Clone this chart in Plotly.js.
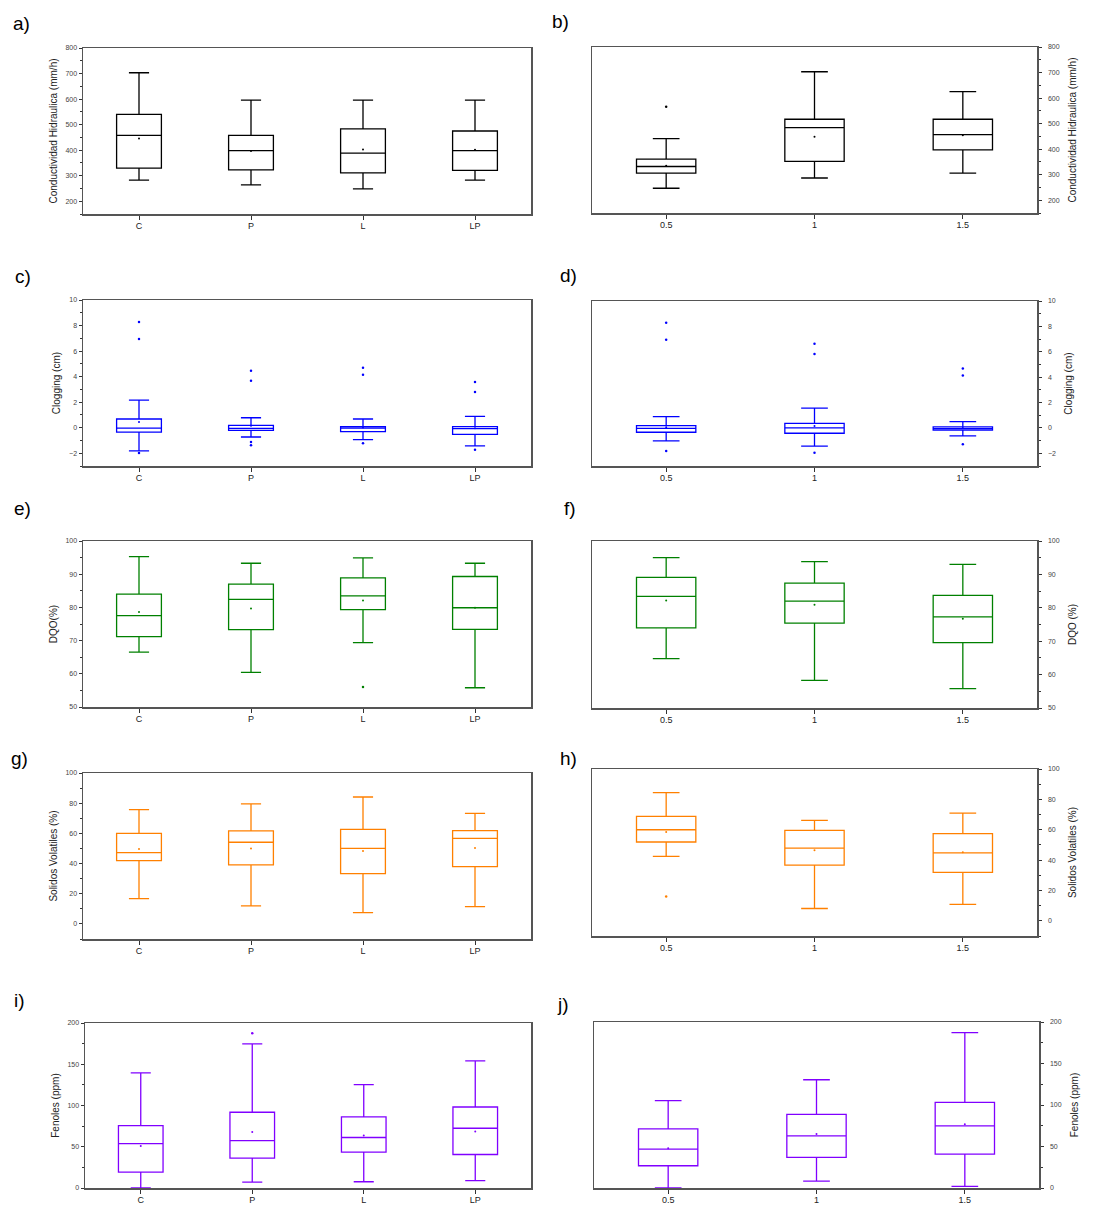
<!DOCTYPE html>
<html>
<head>
<meta charset="utf-8">
<script src="https://cdn.plot.ly/plotly-3.0.1.min.js"></script>
<style>html,body{margin:0;padding:0;background:#fff;}#chart{width:1094px;height:1205px;}</style>
</head>
<body>
<div id="chart"></div>
<script>
// ---------- categories ----------
const catsTreat = ['C', 'P', 'L', 'LP'];
const catsRate = ['0.5', '1', '1.5'];

// ---------- a) Conductividad Hidraulica by treatment ----------
const aQ1 = [330, 323, 311, 321];
const aMed = [458, 398, 388, 398];
const aQ3 = [540, 458, 483, 475];
const aLo = [283, 264, 248, 283];
const aHi = [703, 596, 596, 596];
const aMean = [446, 397, 403, 402];
const aOutX = [];
const aOutY = [];

// ---------- b) Conductividad Hidraulica by rate ----------
const bQ1 = [306, 352, 397];
const bMed = [332, 484, 457];
const bQ3 = [361, 517, 517];
const bLo = [247, 287, 306];
const bHi = [441, 703, 625];
const bMean = [335, 449, 454];
const bOutX = ['0.5'];
const bOutY = [566];

// ---------- c) Clogging by treatment ----------
const cQ1 = [-0.34, -0.21, -0.31, -0.52];
const cMed = [-0.03, -0.05, -0.03, -0.08];
const cQ3 = [0.68, 0.18, 0.08, 0.08];
const cLo = [-1.82, -0.73, -0.94, -1.43];
const cHi = [2.16, 0.78, 0.68, 0.89];
const cMean = [0.44, 0.15, 0.02, -0.05];
const cOutX = ['C', 'C', 'C', 'P', 'P', 'P', 'P', 'L', 'L', 'L', 'LP', 'LP', 'LP'];
const cOutY = [8.28, 6.95, -1.98, 4.45, 3.67, -1.12, -1.38, 4.69, 4.14, -1.22, 3.57, 2.79, -1.72];

// ---------- d) Clogging by rate ----------
const dQ1 = [-0.34, -0.42, -0.18];
const dMed = [-0.03, 0.0, -0.05];
const dQ3 = [0.18, 0.36, 0.08];
const dLo = [-1.02, -1.43, -0.63];
const dHi = [0.89, 1.56, 0.49];
const dMean = [0.05, 0.16, 0.0];
const dOutX = ['0.5', '0.5', '0.5', '1', '1', '1', '1.5', '1.5', '1.5'];
const dOutY = [8.28, 6.95, -1.82, 6.64, 5.83, -1.95, 4.69, 4.14, -1.28];

// ---------- e) DQO by treatment ----------
const eQ1 = [71.2, 73.3, 79.3, 73.4];
const eMed = [77.5, 82.4, 83.5, 79.9];
const eQ3 = [84.0, 87.0, 88.9, 89.3];
const eLo = [66.5, 60.4, 69.4, 55.8];
const eHi = [95.3, 93.3, 94.9, 93.3];
const eMean = [78.6, 79.7, 82.1, 79.9];
const eOutX = ['L'];
const eOutY = [56.0];

// ---------- f) DQO by rate ----------
const fQ1 = [74.0, 75.4, 69.6];
const fMed = [83.4, 82.0, 77.3];
const fQ3 = [89.1, 87.4, 83.7];
const fLo = [64.8, 58.3, 55.8];
const fHi = [95.0, 93.8, 93.0];
const fMean = [82.2, 80.9, 76.7];
const fOutX = [];
const fOutY = [];

// ---------- g) Solidos Volatiles by treatment ----------
const gQ1 = [41.9, 39.1, 33.3, 38.0];
const gMed = [47.2, 54.1, 50.1, 56.7];
const gQ3 = [60.0, 61.6, 62.7, 61.8];
const gLo = [16.8, 11.9, 7.5, 11.5];
const gHi = [75.7, 79.5, 84.1, 73.3];
const gMean = [49.7, 49.9, 48.3, 50.3];
const gOutX = [];
const gOutY = [];

// ---------- h) Solidos Volatiles by rate ----------
const hQ1 = [51.9, 36.7, 31.9];
const hMed = [60.0, 47.9, 44.8];
const hQ3 = [68.8, 59.6, 57.4];
const hLo = [42.4, 8.1, 10.8];
const hHi = [84.4, 66.2, 71.0];
const hMean = [58.5, 46.4, 45.1];
const hOutX = ['0.5'];
const hOutY = [16.0];

// ---------- i) Fenoles by treatment ----------
const iQ1 = [19.3, 36.2, 43.5, 40.6];
const iMed = [53.9, 57.5, 61.2, 72.4];
const iQ3 = [75.7, 91.8, 86.1, 98.2];
const iLo = [0, 7.2, 7.6, 8.9];
const iHi = [139.6, 174.6, 125.2, 154.1];
const iMean = [51.0, 68.0, 63.6, 68.4];
const iOutX = ['P'];
const iOutY = [187.5];

// ---------- j) Fenoles by rate ----------
const jQ1 = [26.8, 36.8, 40.8];
const jMed = [46.8, 62.8, 74.8];
const jQ3 = [71.2, 88.8, 103.2];
const jLo = [0, 8.4, 2];
const jHi = [105.2, 130.4, 187.2];
const jMean = [48.0, 65.2, 76.8];
const jOutX = [];
const jOutY = [];

// ---------- axis titles ----------
const tCond = 'Conductividad Hidraulica (mm/h)';
const tClog = 'Clogging (cm)';
const tDqoL = 'DQO(%)';
const tDqoR = 'DQO (%)';
const tSol = 'Solidos Volatiles (%)';
const tFen = 'Fenoles (ppm)';

// ---------- build ----------
const W = 1094, H = 1205;
const colBlack = '#000000', colBlue = '#0000ff', colGreen = '#008000', colOrange = '#ff8000', colPurple = '#8000ff';

const panels = [
  {lab:'a)', cats:catsTreat, q1:aQ1, med:aMed, q3:aQ3, lo:aLo, hi:aHi, mean:aMean, ox:aOutX, oy:aOutY, col:colBlack, title:tCond, range:[150,800], dtick:100, minor:50, right:false, px:[83,531], py:[48,214], labPos:[11,23]},
  {lab:'b)', cats:catsRate, q1:bQ1, med:bMed, q3:bQ3, lo:bLo, hi:bHi, mean:bMean, ox:bOutX, oy:bOutY, col:colBlack, title:tCond, range:[150,800], dtick:100, minor:50, right:true, px:[592,1037], py:[47,213], labPos:[550,21]},
  {lab:'c)', cats:catsTreat, q1:cQ1, med:cMed, q3:cQ3, lo:cLo, hi:cHi, mean:cMean, ox:cOutX, oy:cOutY, col:colBlue, title:tClog, range:[-3,10], dtick:2, minor:1, right:false, px:[83,531], py:[300,466], labPos:[13,277]},
  {lab:'d)', cats:catsRate, q1:dQ1, med:dMed, q3:dQ3, lo:dLo, hi:dHi, mean:dMean, ox:dOutX, oy:dOutY, col:colBlue, title:tClog, range:[-3,10], dtick:2, minor:1, right:true, px:[592,1037], py:[301,466], labPos:[558,276]},
  {lab:'e)', cats:catsTreat, q1:eQ1, med:eMed, q3:eQ3, lo:eLo, hi:eHi, mean:eMean, ox:eOutX, oy:eOutY, col:colGreen, title:tDqoL, range:[50,100], dtick:10, minor:5, right:false, px:[83,531], py:[541,707], labPos:[12,508]},
  {lab:'f)', cats:catsRate, q1:fQ1, med:fMed, q3:fQ3, lo:fLo, hi:fHi, mean:fMean, ox:fOutX, oy:fOutY, col:colGreen, title:tDqoR, range:[50,100], dtick:10, minor:5, right:true, px:[592,1037], py:[541,708], labPos:[562,508]},
  {lab:'g)', cats:catsTreat, q1:gQ1, med:gMed, q3:gQ3, lo:gLo, hi:gHi, mean:gMean, ox:gOutX, oy:gOutY, col:colOrange, title:tSol, range:[-10,100], dtick:20, minor:10, right:false, px:[83,531], py:[773,939], labPos:[9,758]},
  {lab:'h)', cats:catsRate, q1:hQ1, med:hMed, q3:hQ3, lo:hLo, hi:hHi, mean:hMean, ox:hOutX, oy:hOutY, col:colOrange, title:tSol, range:[-10,100], dtick:20, minor:10, right:true, px:[592,1037], py:[769,936], labPos:[558,758]},
  {lab:'i)', cats:catsTreat, q1:iQ1, med:iMed, q3:iQ3, lo:iLo, hi:iHi, mean:iMean, ox:iOutX, oy:iOutY, col:colPurple, title:tFen, range:[0,200], dtick:50, minor:25, right:false, px:[85,531], py:[1023,1188], labPos:[12,1000]},
  {lab:'j)', cats:catsRate, q1:jQ1, med:jMed, q3:jQ3, lo:jLo, hi:jHi, mean:jMean, ox:jOutX, oy:jOutY, col:colPurple, title:tFen, range:[0,200], dtick:50, minor:25, right:true, px:[594,1039], py:[1022,1188], labPos:[555,1004]}
];

const traces = [];
const layout = {
  width: W, height: H,
  margin: {l:0, r:0, t:0, b:0},
  paper_bgcolor: '#ffffff', plot_bgcolor: '#ffffff',
  showlegend: false,
  font: {family: 'Liberation Sans, Arial, sans-serif', color: '#222'},
  annotations: []
};

panels.forEach((p, k) => {
  const n = k + 1;
  const xa = 'x' + (n === 1 ? '' : n), ya = 'y' + (n === 1 ? '' : n);
  const xk = 'xaxis' + (n === 1 ? '' : n), yk = 'yaxis' + (n === 1 ? '' : n);

  traces.push({
    type: 'box', xaxis: xa, yaxis: ya,
    x: p.cats, q1: p.q1, median: p.med, q3: p.q3,
    lowerfence: p.lo, upperfence: p.hi,
    boxpoints: false, width: 0.4, whiskerwidth: 0.45,
    line: {color: p.col, width: 1.3},
    fillcolor: 'rgba(255,255,255,0)',
    hoverinfo: 'skip'
  });
  traces.push({
    type: 'scatter', mode: 'markers', xaxis: xa, yaxis: ya,
    x: p.cats, y: p.mean,
    marker: {color: p.col, size: 2},
    hoverinfo: 'skip'
  });
  if (p.ox.length) {
    traces.push({
      type: 'scatter', mode: 'markers', xaxis: xa, yaxis: ya,
      x: p.ox, y: p.oy,
      marker: {color: p.col, size: 2.5},
      hoverinfo: 'skip'
    });
  }

  layout[xk] = {
    domain: [p.px[0] / W, p.px[1] / W],
    anchor: ya,
    type: 'category',
    categoryorder: 'array', categoryarray: p.cats,
    range: [-0.5, p.cats.length - 0.5],
    showline: true, mirror: true, linecolor: '#555', linewidth: 1.5,
    ticks: 'outside', ticklen: 4, tickwidth: 1, tickcolor: '#333',
    ticklabelstandoff: -1,
    tickfont: {size: 9, color: '#222'},
    showgrid: false, zeroline: false, fixedrange: true
  };
  layout[yk] = {
    domain: [1 - p.py[1] / H, 1 - p.py[0] / H],
    anchor: xa,
    side: p.right ? 'right' : 'left',
    range: p.range, tick0: 0, dtick: p.dtick,
    showline: true, mirror: true, linecolor: '#555', linewidth: 1.5,
    ticks: 'outside', ticklen: 3, tickwidth: 1, tickcolor: '#333',
    ticklabelstandoff: p.right ? 5 : 0,
    minor: {ticks: 'outside', ticklen: 2, dtick: p.minor, tickcolor: '#333', tickwidth: 1, showgrid: false},
    tickfont: {size: 7, color: '#444'},
    showgrid: false, zeroline: false, fixedrange: true,
    title: {text: p.title, font: {size: 10, color: '#222'}, standoff: p.right ? 10 : 6}
  };

  layout.annotations.push({
    xref: 'paper', yref: 'paper',
    x: p.labPos[0] / W, y: 1 - p.labPos[1] / H,
    xanchor: 'left', yanchor: 'middle',
    text: p.lab, showarrow: false,
    font: {size: 19, color: '#000'}
  });
});

Plotly.newPlot('chart', traces, layout, {staticPlot: true, displayModeBar: false});
</script>
</body>
</html>
